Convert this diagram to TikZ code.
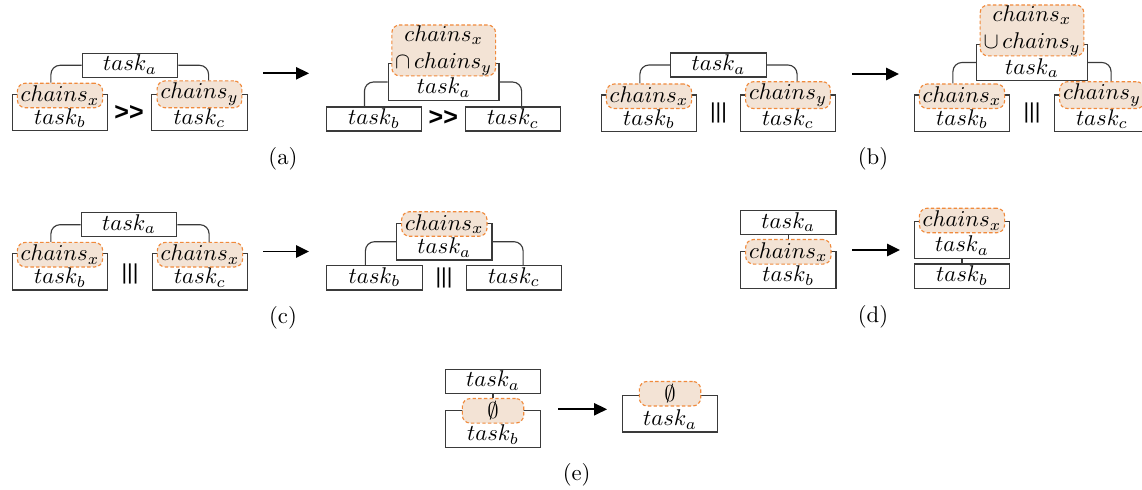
\documentclass[tikz,border=0pt]{standalone}
\usepackage{amsmath,amssymb}
\usepackage{fontspec}
\usepackage{tikz}
\usepackage{xcolor}
\usetikzlibrary{arrows.meta,positioning}

\newfontfamily\opfont{Liberation Sans}

\definecolor{pillfill}{HTML}{F3E3D5}
\definecolor{pillline}{HTML}{F08A3C}
\definecolor{boxline}{HTML}{3A3A3A}

\tikzset{
  taskbox/.style={draw=boxline, line width=0.6pt, fill=white, minimum width=42pt,
    inner xsep=1pt, inner ysep=1pt, text height=6.8pt, text depth=1.8pt},
  tallbox/.style={taskbox, text height=12.3pt},
  widebox/.style={tallbox, minimum width=48.8pt},
  pill/.style={draw=pillline, dash pattern=on 1.5pt off 1pt, line width=0.5pt,
    fill=pillfill, rounded corners=3.5pt, inner xsep=1.5pt, inner ysep=1pt,
    minimum height=10.8pt, align=center},
  twopill/.style={pill, inner ysep=0.3pt},
  conn/.style={draw=boxline, line width=0.5pt, rounded corners=4pt},
  arr/.style={line width=0.8pt, -{Triangle[length=5.7pt,width=5.4pt]}},
  seqop/.style={font=\opfont\bfseries\fontsize{11}{13}\selectfont},
  parop/.style={font=\opfont\fontsize{9.5}{11}\selectfont},
  sublabel/.style={font=\normalsize},
}

\begin{document}
\begin{tikzpicture}[x=0.44pt, y=-0.44pt]
  \useasboundingbox (0,0) rectangle (1142,489);

  % (a)
  \node[taskbox] (ta1) at (130,65.3) {$task_a$};
  \node[tallbox] (tb1) at (60,112.5) {$task_b$};
  \node[tallbox] (tc1) at (199.5,112.5) {$task_c$};
  \node[pill, anchor=south] (cx1) at ([yshift=-6.5pt]tb1.north) {$chains_x$};
  \node[pill, anchor=south] (cy1) at ([yshift=-6.5pt]tc1.north) {$chains_y$};
  \node[seqop] (seq1) at (129,113) {{>}{>}};
  \draw[conn] (ta1.west) -| ([xshift=-4pt]cx1.north);
  \draw[conn] (ta1.east) -| ([xshift=4pt]cy1.north);
  \coordinate (a1s) at (263,73.3);
  \coordinate (a1e) at (309,73.3);
  \draw[arr] (a1s) -- (a1e);
  \node[widebox] (ta2) at (443.7,82) {$task_a$};
  \node[twopill, anchor=south] (ix2) at ([yshift=-5.9pt]ta2.north) {$chains_x$\\$\cap\, chains_y$};
  \node[taskbox] (tb2) at (374,119) {$task_b$};
  \node[taskbox] (tc2) at (513,119) {$task_c$};
  \node[seqop] (seq2) at (443.3,118.3) {{>}{>}};
  \draw[conn] (ta2.west) -| ([xshift=-4.2pt]tb2.north);
  \draw[conn] (ta2.east) -| ([xshift=3.8pt]tc2.north);
  \node[sublabel] (la) at (283,158.5) {(a)};

  % (b)
  \node[taskbox] (ta3) at (718.5,65) {$task_a$};
  \node[tallbox] (tb3) at (649,113.3) {$task_b$};
  \node[tallbox] (tc3) at (788,113.3) {$task_c$};
  \node[pill, anchor=south] (cx3) at ([yshift=-6.5pt]tb3.north) {$chains_x$};
  \node[pill, anchor=south] (cy3) at ([yshift=-6.5pt]tc3.north) {$chains_y$};
  \node[parop] (par3) at (718.5,113) {|||};
  \draw[conn] (ta3.west) -| ([xshift=-4pt]cx3.north);
  \draw[conn] (ta3.east) -| ([xshift=4pt]cy3.north);
  \coordinate (a3s) at (852,74);
  \coordinate (a3e) at (899,74);
  \draw[arr] (a3s) -- (a3e);
  \node[widebox] (ta4) at (1032,62.5) {$task_a$};
  \node[twopill, anchor=south] (ux4) at ([yshift=-5.7pt]ta4.north) {$chains_x$\\$\cup\, chains_y$};
  \node[tallbox] (tb4) at (962,113.3) {$task_b$};
  \node[tallbox] (tc4) at (1102,113.3) {$task_c$};
  \node[pill, anchor=south] (cx4) at ([yshift=-6.5pt]tb4.north) {$chains_x$};
  \node[pill, anchor=south] (cy4) at ([yshift=-6.5pt]tc4.north) {$chains_y$};
  \node[parop] (par4) at (1032,113) {|||};
  \draw[conn] (ta4.west) -| ([xshift=-4pt]cx4.north);
  \draw[conn] (ta4.east) -| ([xshift=4pt]cy4.north);
  \node[sublabel] (lb) at (873,159) {(b)};

  % (c)
  \node[taskbox] (ta5) at (129,224.7) {$task_a$};
  \node[tallbox] (tb5) at (60,271.7) {$task_b$};
  \node[tallbox] (tc5) at (200,271.7) {$task_c$};
  \node[pill, anchor=south] (cx5) at ([yshift=-6.5pt]tb5.north) {$chains_x$};
  \node[pill, anchor=south] (cz5) at ([yshift=-6.5pt]tc5.north) {$chains_x$};
  \node[parop] (par5) at (130,274) {|||};
  \draw[conn] (ta5.west) -| ([xshift=-4pt]cx5.north);
  \draw[conn] (ta5.east) -| ([xshift=4pt]cz5.north);
  \coordinate (a5s) at (263,251.5);
  \coordinate (a5e) at (309,251.5);
  \draw[arr] (a5s) -- (a5e);
  \node[tallbox] (ta6) at (444.3,241.7) {$task_a$};
  \node[pill, anchor=south] (cx6) at ([yshift=-6.2pt]ta6.north) {$chains_x$};
  \node[taskbox] (tb6) at (374.5,277.8) {$task_b$};
  \node[taskbox] (tc6) at (514,277.8) {$task_c$};
  \node[parop] (par6) at (444,278) {|||};
  \draw[conn] (ta6.west) -| ([xshift=-4pt]tb6.north);
  \draw[conn] (ta6.east) -| ([xshift=4pt]tc6.north);
  \node[sublabel] (lc) at (283,317.5) {(c)};

  % (d)
  \node[taskbox] (ta7) at (788.3,222.5) {$task_a$};
  \node[tallbox] (tb7) at (788.3,270) {$task_b$};
  \node[pill, anchor=south] (cx7) at ([yshift=-6pt]tb7.north) {$chains_x$};
  \draw[conn] (ta7.south) -- (cx7.north);
  \coordinate (a7s) at (852,250);
  \coordinate (a7e) at (900,250);
  \draw[arr] (a7s) -- (a7e);
  \node[tallbox] (ta8) at (962,240) {$task_a$};
  \node[pill, anchor=south] (cx8) at ([yshift=-5.4pt]ta8.north) {$chains_x$};
  \node[taskbox] (tb8) at (962,276.2) {$task_b$};
  \draw[conn] (ta8.south) -- (tb8.north);
  \node[sublabel] (ld) at (873,317) {(d)};

  % (e)
  \node[taskbox] (ta9) at (493,381.3) {$task_a$};
  \node[tallbox] (tb9) at (493,429) {$task_b$};
  \node[pill, anchor=south, minimum width=27pt] (em9) at ([yshift=-6pt]tb9.north) {$\emptyset$};
  \draw[conn] (ta9.south) -- (em9.north);
  \coordinate (a9s) at (558,409.3);
  \coordinate (a9e) at (607,409.3);
  \draw[arr] (a9s) -- (a9e);
  \node[tallbox] (ta10) at (670,413.7) {$task_a$};
  \node[pill, anchor=south, minimum width=27pt] (em10) at ([yshift=-5.2pt]ta10.north) {$\emptyset$};
  \node[sublabel] (le) at (576.7,475) {(e)};
\end{tikzpicture}
\end{document}
